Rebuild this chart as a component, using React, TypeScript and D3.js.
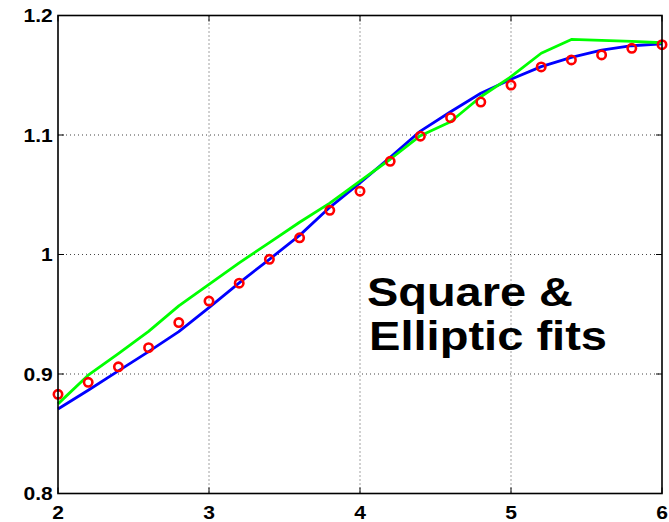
import React from "react";
import * as d3 from "d3";

const xs = [2, 2.2, 2.4, 2.6, 2.8, 3, 3.2, 3.4, 3.6, 3.8, 4, 4.2, 4.4, 4.6, 4.8, 5, 5.2, 5.4, 5.6, 5.8, 6];
const measured = [0.883, 0.893, 0.906, 0.922, 0.943, 0.961, 0.976, 0.996, 1.014, 1.037, 1.053, 1.078, 1.099, 1.1145, 1.1276, 1.1418, 1.157, 1.1628, 1.167, 1.1725, 1.1756];
const ellipticFit = [0.8707, 0.8864, 0.9026, 0.9187, 0.9354, 0.9555, 0.9762, 0.996, 1.016, 1.0395, 1.06, 1.0813, 1.1033, 1.1195, 1.1349, 1.1466, 1.1572, 1.165, 1.1711, 1.1747, 1.1762];
const squareFit = [0.875, 0.899, 0.917, 0.9357, 0.957, 0.975, 0.993, 1.010, 1.027, 1.043, 1.0615, 1.0797, 1.0994, 1.1111, 1.132, 1.1488, 1.1684, 1.180, 1.1792, 1.1784, 1.1772];
const xTicks = [2, 3, 4, 5, 6];
const yTicks = [0.8, 0.9, 1.0, 1.1, 1.2];
const yTickLabels = ["0.8", "0.9", "1", "1.1", "1.2"];
const annotation = ["Square &", "Elliptic fits"];

export default function App() {
  const left = 58, right = 662, top = 15.5, bottom = 493.5;
  const x = d3.scaleLinear().domain([2, 6]).range([left, right]);
  const y = d3.scaleLinear().domain([0.8, 1.2]).range([bottom, top]);
  const line = d3.line<[number, number]>().x(d => x(d[0])).y(d => y(d[1]));
  const blue = line(xs.map((v, i) => [v, ellipticFit[i]] as [number, number])) || "";
  const green = line(xs.map((v, i) => [v, squareFit[i]] as [number, number])) || "";
  const font = "'Liberation Sans', Arial, Helvetica, sans-serif";
  const annX = [367, 369];
  const annW = [206, 238];
  return (
    <svg width={669} height={522} style={{ position: "absolute", left: 0, top: 0, background: "#fff" }}>
      <rect x={0} y={0} width={669} height={522} fill="#fff" />
      <defs>
        <clipPath id="plot">
          <rect x={left - 6} y={top - 6} width={right - left + 12} height={bottom - top + 12} />
        </clipPath>
      </defs>
      {xTicks.slice(1, -1).map(t => (
        <line key={"gx" + t} x1={x(t)} x2={x(t)} y1={top} y2={bottom} stroke="#444" strokeWidth={1} strokeDasharray="1,3" />
      ))}
      {yTicks.slice(1, -1).map(t => (
        <line key={"gy" + t} x1={left} x2={right} y1={y(t)} y2={y(t)} stroke="#444" strokeWidth={1} strokeDasharray="1,3" />
      ))}
      {xTicks.map(t => (
        <g key={"tx" + t}>
          <line x1={x(t)} x2={x(t)} y1={bottom} y2={bottom - 6} stroke="#000" strokeWidth={1} />
          <line x1={x(t)} x2={x(t)} y1={top} y2={top + 6} stroke="#000" strokeWidth={1} />
        </g>
      ))}
      {yTicks.map(t => (
        <g key={"ty" + t}>
          <line x1={left} x2={left + 6} y1={y(t)} y2={y(t)} stroke="#000" strokeWidth={1} />
          <line x1={right} x2={right - 6} y1={y(t)} y2={y(t)} stroke="#000" strokeWidth={1} />
        </g>
      ))}
      {annotation.map((s, i) => (
        <text key={s} x={annX[i]} y={306 + i * 44} fontFamily={font} fontWeight="bold" fontSize={41} fill="#000"
          textLength={annW[i]} lengthAdjust="spacingAndGlyphs">{s}</text>
      ))}
      <g clipPath="url(#plot)">
        <path d={blue} fill="none" stroke="#0000ff" strokeWidth={2.8} strokeLinejoin="round" />
        <path d={green} fill="none" stroke="#00ff00" strokeWidth={2.8} strokeLinejoin="round" />
        {xs.map((v, i) => (
          <circle key={"c" + i} cx={x(v)} cy={y(measured[i])} r={4.2} fill="none" stroke="#ff0000" strokeWidth={2.6} />
        ))}
      </g>
      <rect x={left} y={top} width={right - left} height={bottom - top} fill="none" stroke="#000" strokeWidth={1.6} />
      {yTicks.map((t, i) => (
        <text key={"ly" + t} transform={`translate(52.7,${y(t) + 6.5}) scale(1.17,1)`} textAnchor="end" fontFamily={font} fontWeight="bold" fontSize={18} fill="#000">{yTickLabels[i]}</text>
      ))}
      {xTicks.map(t => (
        <text key={"lx" + t} transform={`translate(${x(t)},518.5) scale(1.17,1)`} textAnchor="middle" fontFamily={font} fontWeight="bold" fontSize={18} fill="#000">{t}</text>
      ))}
    </svg>
  );
}
